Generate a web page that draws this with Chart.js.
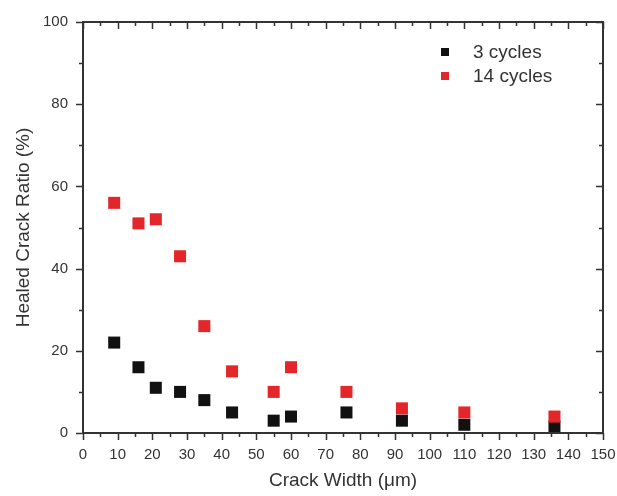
<!DOCTYPE html>
<html>
<head>
<meta charset="utf-8">
<script src="https://cdn.jsdelivr.net/npm/chart.js@4/dist/chart.umd.min.js"></script>
<style>
  html, body { margin: 0; padding: 0; background: #fff; }
  #wrap { width: 617px; height: 496px; }
</style>
</head>
<body>
<div id="wrap"><canvas id="chart" width="617" height="496"></canvas></div>
<script>
// Crack width (um) where the samples were measured
const crackWidth = [9, 16, 21, 28, 35, 43, 55, 60, 76, 92, 110, 136];
// Healed crack ratio (%) after 3 and 14 cycles
const healed3 = [22, 16, 11, 10, 8, 5, 3, 4, 5, 3, 2, 1.6];
const healed14 = [56, 51, 52, 43, 26, 15, 10, 16, 10, 6, 5, 4];
const seriesLabels = ['3 cycles', '14 cycles'];
const seriesColors = ['#111111', '#e3262a'];

const xTicks = [0, 10, 20, 30, 40, 50, 60, 70, 80, 90, 100, 110, 120, 130, 140, 150];
const yTicks = [0, 20, 40, 60, 80, 100];

const FONT = '"Liberation Sans", Arial, sans-serif';
const AXIS = '#333';

function toPoints(xs, ys) {
    return xs.map((x, i) => ({x: x, y: ys[i]}));
}

// Origin-style frame: left/bottom ticks outward, top/right ticks inward
const framePlugin = {
    id: 'frame',
    afterDatasetsDraw(chart) {
        const {ctx, chartArea: a, scales} = chart;
        const xs = scales.x, ys = scales.y;
        ctx.save();
        ctx.strokeStyle = AXIS;
        ctx.lineWidth = 2;
        ctx.strokeRect(a.left, a.top, a.right - a.left, a.bottom - a.top);
        ctx.lineWidth = 1.5;
        ctx.beginPath();
        for (let v = 0; v <= 150; v += 5) {
            const px = Math.round(xs.getPixelForValue(v)) + 0.5;
            const len = v % 10 === 0 ? 7 : 4;
            ctx.moveTo(px, a.bottom); ctx.lineTo(px, a.bottom + len);
            ctx.moveTo(px, a.top); ctx.lineTo(px, a.top + len);
        }
        for (let v = 0; v <= 100; v += 10) {
            const py = Math.round(ys.getPixelForValue(v)) + 0.5;
            const len = v % 20 === 0 ? 7 : 4;
            ctx.moveTo(a.left, py); ctx.lineTo(a.left - len, py);
            ctx.moveTo(a.right, py); ctx.lineTo(a.right - len, py);
        }
        ctx.stroke();
        ctx.restore();
    }
};

// Legend in the upper right of the plot
const legendPlugin = {
    id: 'boxLegend',
    afterDatasetsDraw(chart) {
        const {ctx} = chart;
        const sets = chart.data.datasets;
        ctx.save();
        ctx.font = '19px ' + FONT;
        ctx.textBaseline = 'middle';
        sets.forEach((ds, i) => {
            const y = 52 + i * 24;
            ctx.fillStyle = ds.backgroundColor;
            ctx.fillRect(441, y - 4, 8, 8);
            ctx.fillStyle = AXIS;
            ctx.fillText(ds.label, 473, y + 1);
        });
        ctx.restore();
    }
};

const ctx = document.getElementById('chart').getContext('2d');
new Chart(ctx, {
    type: 'scatter',
    data: {
        datasets: [{
            label: seriesLabels[0],
            data: toPoints(crackWidth, healed3),
            backgroundColor: seriesColors[0],
            borderColor: seriesColors[0],
            borderWidth: 0,
            pointStyle: 'rect',
            pointRadius: 8.5,
            order: 2
        }, {
            label: seriesLabels[1],
            data: toPoints(crackWidth, healed14),
            backgroundColor: seriesColors[1],
            borderColor: seriesColors[1],
            borderWidth: 0,
            pointStyle: 'rect',
            pointRadius: 8.5,
            order: 1
        }]
    },
    options: {
        responsive: false,
        animation: false,
        layout: {padding: {left: 0, right: 14, top: 22, bottom: 0}},
        plugins: {
            legend: {display: false},
            tooltip: {enabled: false}
        },
        scales: {
            x: {
                type: 'linear',
                min: 0, max: 150,
                afterFit: s => { s.height = 63; s.paddingLeft = 0; s.paddingRight = 0; },
                afterBuildTicks: s => { s.ticks = xTicks.map(v => ({value: v})); },
                grid: {display: false, drawTicks: false},
                border: {display: false},
                ticks: {
                    autoSkip: false, maxRotation: 0, padding: 13,
                    color: AXIS, font: {family: FONT, size: 15}
                },
                title: {
                    display: true, text: 'Crack Width (\u03bcm)',
                    color: AXIS, font: {family: FONT, size: 19},
                    padding: {top: 0, bottom: 4}
                }
            },
            y: {
                type: 'linear',
                min: 0, max: 100,
                afterFit: s => { s.width = 83; s.paddingTop = 0; s.paddingBottom = 0; },
                afterBuildTicks: s => { s.ticks = yTicks.map(v => ({value: v})); },
                grid: {display: false, drawTicks: false},
                border: {display: false},
                ticks: {
                    padding: 15,
                    color: AXIS, font: {family: FONT, size: 15}
                },
                title: {
                    display: true, text: 'Healed Crack Ratio (%)',
                    color: AXIS, font: {family: FONT, size: 19},
                    padding: {top: 12, bottom: 0}
                }
            }
        }
    },
    plugins: [framePlugin, legendPlugin]
});
</script>
</body>
</html>
